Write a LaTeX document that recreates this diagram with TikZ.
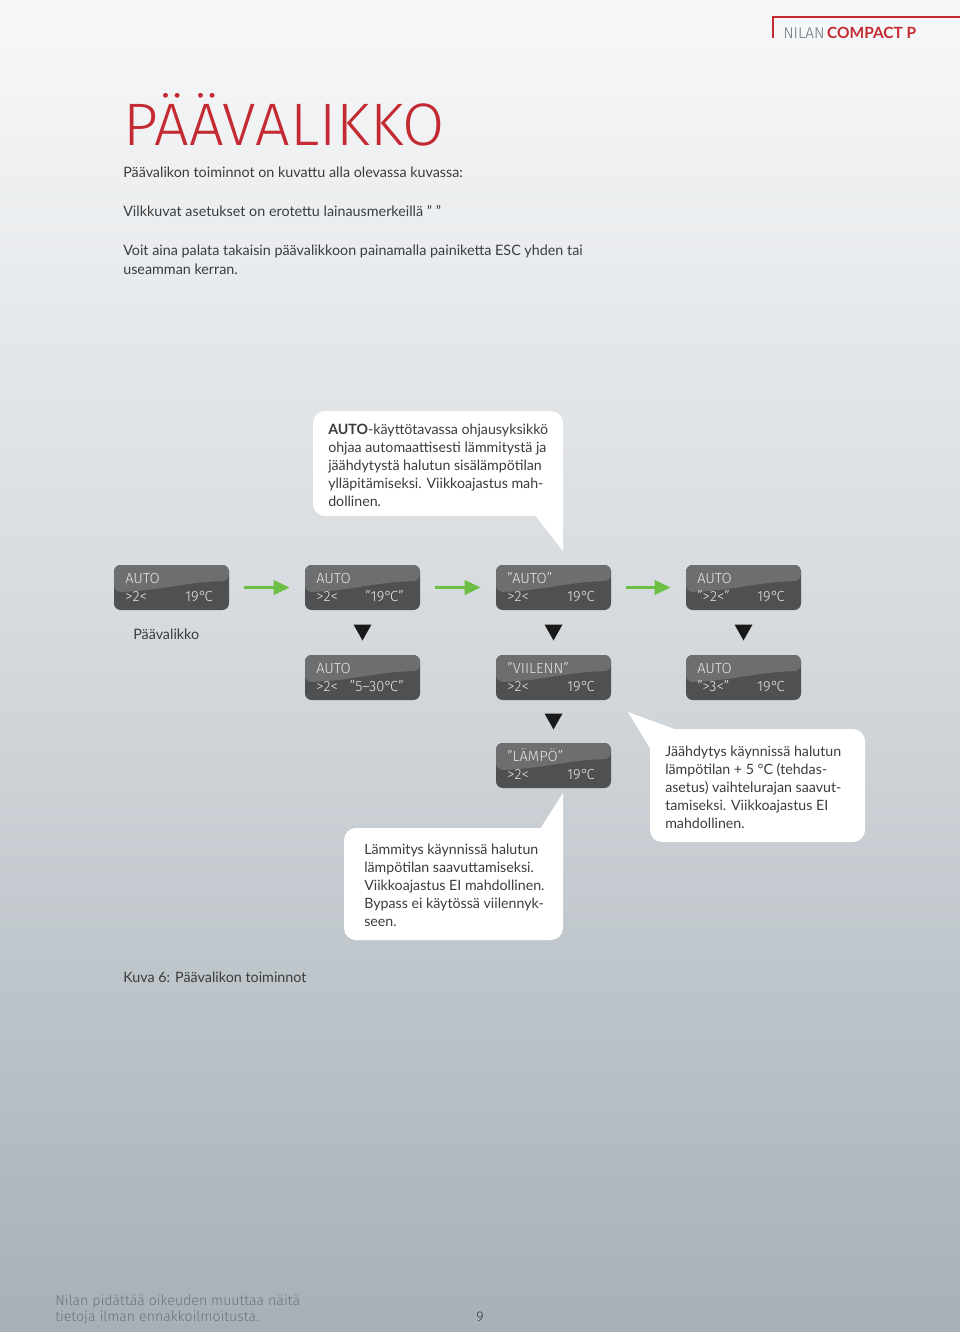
\documentclass[tikz,border=0pt]{standalone}
\usepackage{fontspec}
\setmainfont{Lato}
\IfFontExistsTF{Fira Sans Light}{\newfontfamily\titlefont{Fira Sans Light}}{\newfontfamily\titlefont{Fira Sans}}
\usetikzlibrary{arrows.meta,calc}
\definecolor{bgtop}{HTML}{F7F8F9}
\definecolor{bgmid}{HTML}{D3D8DC}
\definecolor{bgbot}{HTML}{A7B0B6}
\definecolor{nred}{HTML}{C42A32}
\definecolor{txt}{HTML}{3A3C3E}
\definecolor{foot}{HTML}{6A7379}
\definecolor{dispdark}{HTML}{4E5052}
\definecolor{displight}{HTML}{6C6E70}
\definecolor{disptext}{HTML}{E8E8E8}
\definecolor{ngreen}{HTML}{6CBE45}
\newcommand\degc{°\kern-0.12em C}
\newcommand\dispbox[6]{%
  \node[lcd] (#1) at (#2+57.5,#3+22.5) {};
  \node[disptxt, anchor=base west] at (#2+11,#3+18) {#4};
  \node[disptxt, anchor=base west] at (#2+11,#3+36) {#5};
  \node[disptxt, anchor=base east] at (#2+99,#3+36) {#6};
}
\begin{document}
\begin{tikzpicture}[x=0.75pt,y=-0.75pt,
  bodytxt/.style={anchor=base west, inner sep=0pt, text=txt, font=\fontsize{10.75}{13.5}\selectfont},
  calltxt/.style={anchor=base west, inner sep=0pt, text=txt, align=left, font=\fontsize{10.65}{13.5}\selectfont},
  callout/.style={fill=white, rounded corners=9pt},
  lcd/.style={rectangle, rounded corners=5pt, minimum width=86.25pt, minimum height=33.75pt, inner sep=0pt, fill=dispdark,
    path picture={\fill[displight] (path picture bounding box.north west) -- (path picture bounding box.north east)
      -- ($(path picture bounding box.north east)+(0,16)$)
      .. controls ($(path picture bounding box.north east)+(-45,17)$) and ($(path picture bounding box.north west)+(45,26)$)
      .. ($(path picture bounding box.north west)+(0,27)$) -- cycle;}},
  disptxt/.style={inner sep=0pt, text=disptext, font=\titlefont\fontsize{11}{13}\selectfont},
  garrow/.style={draw=ngreen, line width=2.6pt, -{Triangle[length=12pt,width=10.5pt]}, shorten <=11.25pt, shorten >=11.25pt},
  downtri/.style={fill=black!90}
]
\useasboundingbox (0,0) rectangle (960,1332);
\shade[top color=bgtop, bottom color=bgbot, middle color=bgmid] (0,0) rectangle (960,1332);

% header
\draw[nred, line width=2pt] (773,38) -- (773,17) -- (960,17);
\node[anchor=base west, inner sep=0pt, font=\fontsize{11.6}{13}\selectfont] (hdr) at (783,38)
  {\textcolor{foot}{\titlefont NILAN}\,\textcolor{nred}{\bfseries COMPACT P}};

% title
\node[anchor=base west, inner sep=0pt, text=nred, font=\titlefont\fontsize{45}{45}\selectfont] (title) at (123,145)
  {\scalebox{1.02}[1]{PÄÄVALIKKO}};

\node[bodytxt] (l1) at (123,177) {Päävalikon toiminnot on kuvattu alla olevassa kuvassa:};
\node[bodytxt] (l2) at (123,216) {Vilkkuvat asetukset on erotettu lainausmerkeillä ” ”};
\node[bodytxt] (l3) at (123,255) {Voit aina palata takaisin päävalikkoon painamalla painiketta ESC yhden tai};
\node[bodytxt] (l4) at (123,274) {useamman kerran.};

% callout 1
\fill[callout] (313,411) rectangle (563,516);
\fill[white] (535,515) -- (563,551) -- (563,495) -- cycle;
\node[calltxt] (c1) at (328,506) {\textbf{AUTO}-käyttötavassa ohjausyksikkö\\
ohjaa automaattisesti lämmitystä ja\\
jäähdytystä halutun sisälämpötilan\\
ylläpitämiseksi. Viikkoajastus mah-\\
dollinen.};

% callout 2
\fill[callout] (650,729) rectangle (865,842);
\fill[white] (628,712) -- (677,730) -- (670,745) -- (651,750) -- cycle;
\node[calltxt] (c2) at (665,828) {Jäähdytys käynnissä halutun\\
lämpötilan + 5 °C (tehdas-\\
asetus) vaihtelurajan saavut-\\
tamiseksi. Viikkoajastus EI\\
mahdollinen.};

% callout 3
\fill[callout] (344,828) rectangle (563,940);
\fill[white] (563,793) -- (540,829) -- (563,845) -- cycle;
\node[calltxt] (c3) at (364,926) {Lämmitys käynnissä halutun\\
lämpötilan saavuttamiseksi.\\
Viikkoajastus EI mahdollinen.\\
Bypass ei käytössä viilennyk-\\
seen.};

% displays
\dispbox{b1}{114}{565}{AUTO}{>2<}{19\degc}
\dispbox{b2}{305}{565}{AUTO}{>2<}{”19\degc”}
\dispbox{b3}{496}{565}{”AUTO”}{>2<}{19\degc}
\dispbox{b4}{686}{565}{AUTO}{”>2<”}{19\degc}
\dispbox{b5}{305}{655}{AUTO}{>2<}{”5–30\degc”}
\dispbox{b6}{496}{655}{”VIILENN”}{>2<}{19\degc}
\dispbox{b7}{686}{655}{AUTO}{”>3<”}{19\degc}
\dispbox{b8}{496}{743}{”LÄMPÖ”}{>2<}{19\degc}

% green arrows
\draw[garrow] (b1) -- (b2);
\draw[garrow] (b2) -- (b3);
\draw[garrow] (b3) -- (b4);

% down triangles
\foreach \a/\b in {b2/b5, b3/b6, b4/b7, b6/b8}{
  \fill[downtri] ($(\a.south)!0.5!(\b.north)+(-9,-8)$) -- ++(18,0) -- ++(-9,16) -- cycle;
}

\node[bodytxt] (pv) at (133,639) {Päävalikko};
\node[bodytxt] (cap) at (123,982) {Kuva 6: Päävalikon toiminnot};

% footer
\node[anchor=base west, inner sep=0pt, text=foot, align=left, font=\titlefont\fontsize{10.6}{12}\selectfont] (ft) at (55,1321)
  {Nilan pidättää oikeuden muuttaa näitä\\tietoja ilman ennakkoilmoitusta.};
\node[anchor=base west, inner sep=0pt, text=txt, font=\titlefont\fontsize{10.6}{12}\selectfont] (pg) at (476,1321) {9};
\end{tikzpicture}
\end{document}
